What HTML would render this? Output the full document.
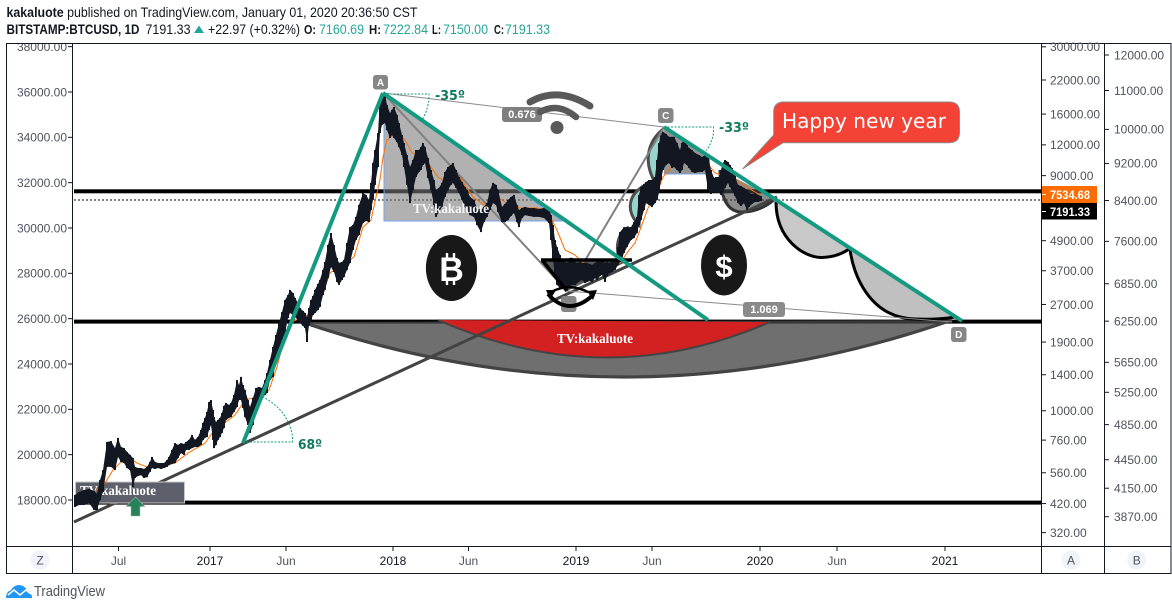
<!DOCTYPE html>
<html lang="en">
<head>
<meta charset="utf-8">
<title>BTCUSD chart</title>
<style>
html,body{margin:0;padding:0;background:#fff;width:1172px;height:610px;overflow:hidden}
svg{display:block;font-family:"Liberation Sans",sans-serif}
.tick-label{font-size:12px;fill:#50535e}
.hdr{font-size:14px;fill:#131722}
.lbl{font-size:13px;fill:#131722;font-weight:bold}
</style>
</head>
<body>
<svg id="chart" xmlns="http://www.w3.org/2000/svg" width="1172" height="610" viewBox="0 0 1172 610">
<defs>
<clipPath id="leftClip"><rect x="7" y="44" width="65" height="502"/></clipPath>
<clipPath id="paneClip"><rect x="72" y="44" width="969" height="502"/></clipPath>
</defs>

<text class="hdr" x="6.5" y="17" textLength="411" lengthAdjust="spacingAndGlyphs"><tspan font-weight="bold">kakaluote</tspan> published on TradingView.com, January 01, 2020 20:36:50 CST</text>
<g>
<text class="hdr" x="6.5" y="34" font-weight="bold" textLength="133" lengthAdjust="spacingAndGlyphs">BITSTAMP:BTCUSD, 1D</text>
<text class="hdr" x="145.5" y="34" textLength="45" lengthAdjust="spacingAndGlyphs">7191.33</text>
<polygon points="194,33 199,25.5 204,33" fill="#26a69a"/>
<text class="hdr" x="208" y="34" textLength="92" lengthAdjust="spacingAndGlyphs">+22.97 (+0.32%)</text>
<text class="lbl" x="304" y="34" textLength="12" lengthAdjust="spacingAndGlyphs">O:</text>
<text class="hdr" x="319" y="34" textLength="45" lengthAdjust="spacingAndGlyphs" style="fill:#26a69a">7160.69</text>
<text class="lbl" x="369" y="34" textLength="12" lengthAdjust="spacingAndGlyphs">H:</text>
<text class="hdr" x="383" y="34" textLength="45" lengthAdjust="spacingAndGlyphs" style="fill:#26a69a">7222.84</text>
<text class="lbl" x="432" y="34" textLength="9" lengthAdjust="spacingAndGlyphs">L:</text>
<text class="hdr" x="443" y="34" textLength="45" lengthAdjust="spacingAndGlyphs" style="fill:#26a69a">7150.00</text>
<text class="lbl" x="494" y="34" textLength="10" lengthAdjust="spacingAndGlyphs">C:</text>
<text class="hdr" x="505" y="34" textLength="45" lengthAdjust="spacingAndGlyphs" style="fill:#26a69a">7191.33</text>
</g>

<g id="underlay">
<rect x="74" y="189.3" width="967" height="4" fill="#000"/>
<rect x="74" y="319.6" width="967" height="4" fill="#000"/>
<rect x="74" y="500.6" width="967" height="4" fill="#000"/>
<line x1="74" x2="1041" y1="200" y2="200" stroke="#000" stroke-width="1" stroke-dasharray="2 2"/>

<path d="M302 322 Q627 433 952 320 Z" fill="rgba(70,70,70,.78)"/>
<path d="M438 320 Q605 394 770 322 Z" fill="#d32020"/>
<path d="M438 320 Q605 394 770 322" fill="none" stroke="#444" stroke-width="2"/>
<path d="M302 322 Q627 433 952 320" fill="none" stroke="#434343" stroke-width="3.2"/>

<polygon points="384,95 384,221 562,221" fill="rgba(120,120,120,.58)" stroke="#7aa3e6" stroke-width="1"/>
<polygon points="664,128 710,158 710,174 664,174" fill="rgba(90,90,90,.65)"/>
<line x1="664" y1="174" x2="710" y2="174" stroke="#7aa3e6" stroke-width="1"/>

<path d="M662 130 C648 142 642 162 657 186 Z" fill="#97d5cc" stroke="#4d4d4d" stroke-width="3"/>
<path d="M642 187 C628 196 626 212 639 225 Z" fill="#97d5cc" stroke="#4d4d4d" stroke-width="3"/>
<path d="M627 228 C617 234 614 250 621 260 Z" fill="#97d5cc" stroke="#4d4d4d" stroke-width="2.5"/>

<path d="M720 170 Q720 212 742 212 Q760 212 775 199 Z" fill="rgba(70,70,70,.62)"/>
<path d="M720 170 Q720 212 742 212 Q760 212 775 199" fill="none" stroke="#333" stroke-width="3"/>

<path d="M776 202 C776 240 805 258 822 257.5 Q838 257 849 249 Z" fill="#c8c8c8"/>
<path d="M776 202 C776 240 805 258 822 257.5 Q838 257 849 249" fill="none" stroke="#000" stroke-width="3"/>
<path d="M850 249 C853 275 870 318 915 319 Q938 320 955 317 Z" fill="#c0c0c0"/>
<path d="M850 249 C853 275 870 318 915 319 Q938 320 955 317" fill="none" stroke="#000" stroke-width="3"/>

<line x1="74" y1="522" x2="777" y2="197" stroke="#434343" stroke-width="3"/>
<line x1="383" y1="93" x2="567" y2="291" stroke="#808080" stroke-width="2"/>
<line x1="567" y1="291" x2="664" y2="127" stroke="#808080" stroke-width="2"/>
<line x1="383" y1="93" x2="664" y2="127" stroke="#8a8a8a" stroke-width="1"/>
<line x1="567" y1="291" x2="952" y2="322" stroke="#8a8a8a" stroke-width="1"/>

<rect x="75.5" y="482" width="109" height="21" fill="#5d5f6b" stroke="#c8c8c8" stroke-width="1"/>
<text x="80" y="495" font-family="Liberation Serif" font-weight="bold" font-size="14" fill="#fff" textLength="76" lengthAdjust="spacingAndGlyphs">TV:kakaluote</text>

<polygon points="542,260 630,260 567,291" fill="#5a5a5a"/>
</g>

<g id="price" clip-path="url(#paneClip)"></g>

<g id="overlay">
<path d="M542 260 L567 291 M541 260 L632 260" fill="none" stroke="#000" stroke-width="3.5"/>
<line x1="243" y1="443" x2="383" y2="93" stroke="#149a80" stroke-width="4"/>
<line x1="383" y1="93" x2="708" y2="320" stroke="#149a80" stroke-width="4"/>
<line x1="664" y1="127" x2="962" y2="321" stroke="#149a80" stroke-width="4"/>

<path d="M383 94 H429 V100 Q427 112 422 120" fill="none" stroke="#149a80" stroke-width="1" stroke-dasharray="2 1.5"/>
<text x="435" y="100" font-family="DejaVu Sans" font-weight="bold" font-size="13" fill="#0f7a62" textLength="30" lengthAdjust="spacingAndGlyphs">-35º</text>
<path d="M664 127 H713.5 V133 Q712 143 706 151" fill="none" stroke="#149a80" stroke-width="1" stroke-dasharray="2 1.5"/>
<text x="719" y="132" font-family="DejaVu Sans" font-weight="bold" font-size="13" fill="#0f7a62" textLength="30" lengthAdjust="spacingAndGlyphs">-33º</text>
<path d="M243 442 H292.5 V436 Q288 410 263 397" fill="none" stroke="#149a80" stroke-width="1" stroke-dasharray="2 1.5"/>
<text x="298" y="449" font-family="DejaVu Sans" font-weight="bold" font-size="13" fill="#0f7a62" textLength="24" lengthAdjust="spacingAndGlyphs">68º</text>

<rect x="373" y="75" width="15" height="14.5" rx="3" fill="#868686"/>
<text x="380.5" y="86" font-size="10" font-weight="bold" fill="#fff" text-anchor="middle">A</text>
<rect x="561" y="296" width="15.5" height="16" rx="3" fill="#868686"/>
<rect x="658" y="108" width="15.5" height="15" rx="3" fill="#868686"/>
<text x="665.7" y="119" font-size="10" font-weight="bold" fill="#fff" text-anchor="middle">C</text>
<rect x="951" y="327" width="15.5" height="15" rx="3" fill="#868686"/>
<text x="958.7" y="338" font-size="10" font-weight="bold" fill="#fff" text-anchor="middle">D</text>

<rect x="502" y="107" width="40" height="15" rx="3" fill="#7f7f7f"/>
<text x="522" y="118" font-size="11" font-weight="bold" fill="#fff" text-anchor="middle">0.676</text>
<rect x="743" y="302" width="42" height="15" rx="3" fill="#8a8a8a"/>
<text x="764" y="313" font-size="11" font-weight="bold" fill="#fff" text-anchor="middle">1.069</text>

<g>
<path d="M530 102 Q558 86 590 106" fill="none" stroke="#595959" stroke-width="7" stroke-linecap="round"/>
<path d="M540 112 Q558 102 576 117" fill="none" stroke="#595959" stroke-width="6.5" stroke-linecap="round"/>
<circle cx="557" cy="127.5" r="6.5" fill="#595959"/>
</g>

<g>
<ellipse cx="451.5" cy="268" rx="25.6" ry="33" fill="#181818"/>
<text x="451.5" y="281" font-family="Liberation Sans" font-weight="bold" font-size="34" fill="#fff" text-anchor="middle">B</text>
<path d="M447 253 V258 M454 253 V258 M447 280 V285 M454 280 V285" stroke="#fff" stroke-width="2.4"/>
</g>
<g>
<ellipse cx="724" cy="265" rx="23" ry="30.5" fill="#181818"/>
<text x="724" y="277" font-family="Liberation Sans" font-weight="bold" font-size="31" fill="#fff" text-anchor="middle">$</text>
</g>

<g>
<path d="M548 294 Q568 317 592 296" fill="none" stroke="#000" stroke-width="4"/>
<path d="M553 291 Q570 283 588 292" fill="none" stroke="#000" stroke-width="2.5"/>
<polygon points="546,290 556,290 550,300" fill="#000"/>
<polygon points="587,291 593,300 597,290" fill="#000"/>
</g>

<g>
<polygon points="135.5,497 145,506.5 140,506.5 140,516 131,516 131,506.5 126,506.5" fill="#26805a" stroke="#9fb8ab" stroke-width=".6"/>
</g>

<g>
<path d="M784 102 H949 Q959.5 102 959.5 112 V132.5 Q959.5 142.7 949 142.7 H783 L742.6 169 L773.7 135 V112 Q773.7 102 784 102 Z" fill="#f44336" stroke="#8a8a8a" stroke-width="1"/>
<text x="782" y="128" font-family="DejaVu Sans" font-size="20" fill="#fff" textLength="164" lengthAdjust="spacingAndGlyphs">Happy new year</text>
</g>

<text x="413" y="213" font-family="Liberation Serif" font-weight="bold" font-size="14" fill="#f4f4f4" textLength="76" lengthAdjust="spacingAndGlyphs">TV:kakaluote</text>
<text x="557" y="343" font-family="Liberation Serif" font-weight="bold" font-size="14" fill="#fff" textLength="76" lengthAdjust="spacingAndGlyphs">TV:kakaluote</text>
</g>

<g id="frame" fill="none" stroke="#131722" stroke-width="1">
<rect x="6.5" y="43.5" width="1164.5" height="530"/>
<line x1="72.5" y1="43.5" x2="72.5" y2="573.5"/>
<line x1="1041.5" y1="43.5" x2="1041.5" y2="573.5"/>
<line x1="1104.5" y1="43.5" x2="1104.5" y2="573.5"/>
<line x1="6.5" y1="546.5" x2="1171" y2="546.5"/>
</g>

<g id="axes"></g>

<g>
<rect x="1042" y="186" width="55" height="17" fill="#ff6d00"/>
<line x1="1042" x2="1046" y1="194.5" y2="194.5" stroke="#fff"/>
<text x="1050" y="199" font-size="12" font-weight="bold" fill="#fff" textLength="40" lengthAdjust="spacingAndGlyphs">7534.68</text>
<rect x="1042" y="203" width="55" height="16.5" fill="#000"/>
<line x1="1042" x2="1046" y1="211.5" y2="211.5" stroke="#fff"/>
<text x="1050" y="216" font-size="12" font-weight="bold" fill="#fff" textLength="40" lengthAdjust="spacingAndGlyphs">7191.33</text>
</g>

<g>
<circle cx="40" cy="560" r="9.5" fill="#f0f3fa"/>
<text x="40" y="564.5" font-size="12" fill="#50535e" text-anchor="middle">Z</text>
<circle cx="1071" cy="560" r="9.5" fill="#f0f3fa"/>
<text x="1071" y="564.5" font-size="12" fill="#50535e" text-anchor="middle">A</text>
<circle cx="1136.7" cy="560" r="9.5" fill="#f0f3fa"/>
<text x="1136.7" y="564.5" font-size="12" fill="#50535e" text-anchor="middle">B</text>
</g>

<g>
<path d="M6 598 Q6 592 11 590 Q14 585 19 585 Q24 585 27 590 Q32 592 32 598 Z" fill="#2196f3"/>
<path d="M8 595 L14 590 L20 595 L26 590 L31 594" fill="none" stroke="#fff" stroke-width="1.5"/>
<text x="34" y="596" font-size="14.5" fill="#50535e" textLength="71" lengthAdjust="spacingAndGlyphs">TradingView</text>
</g>
</svg>

<script>
const barDays=[-270,-262,-252,-242,-232,-226,-220,-214,-206,-198,-190,-184,-178,-172,-166,-160,-154,-150,-144,-138,-132,-126,-120,-116,-110,-104,-98,-92,-86,-82,-76,-70,-64,-58,-52,-48,-42,-36,-30,-24,-18,-14,-10,-6,-2,2,6,8,12,16,20,24,28,32,38,42,48,54,58,62,66,70,76,80,86,92,98,104,110,114,120,126,132,138,144,150,156,160,166,170,176,180,186,190,194,198,202,206,210,216,220,226,230,236,242,248,254,258,264,268,274,280,286,292,298,306,312,318,322,326,330,336,340,344,350,354,360,364,368,374,378,384,388,394,400,406,412,418,422,426,430,436,442,448,452,458,464,470,476,482,486,492,498,504,510,514,520,528,534,542,548,554,560,566,572,576,584,590,596,602,608,614,618,624,630,638,648,658,668,678,682,686,690,694,700,704,710,714,720,724,730,734,740,744,750,754,760,764,770,774,780,784,790,794,800,804,810,816,820,828,834,842,848,854,858,862,868,872,878,884,890,894,898,902,906,912,918,924,928,934,940,944,948,954,958,964,970,978,984,990,996,1002,1008,1012,1018,1022,1026,1030,1036,1040,1044,1050,1056,1062,1068,1074,1078,1084,1090,1096,1102];
const barHigh=[18220,18350,18440,18490,18400,18260,18880,19320,20560,20600,20290,20740,20340,20290,20120,19990,19850,19460,19410,19410,19370,19460,19680,19900,19680,19630,19630,19630,19760,19900,20210,20510,20430,20510,20470,20560,20650,20870,20650,20780,21090,21400,21620,21880,22320,22410,21970,21660,21440,21530,21620,21840,22150,22280,22190,22280,22630,23290,23070,23430,23070,22850,22410,22100,22500,22940,22990,22940,23290,23600,24180,24750,25280,25810,26290,26820,27040,27270,27130,26910,26690,26470,26340,26250,26070,26470,26820,27000,27270,27530,27710,28150,28500,29250,29780,29250,28680,28460,28500,28590,29340,30040,30130,30490,31020,31540,31460,31240,31990,32870,33440,34190,35650,35820,35870,35430,35070,35210,35340,34990,34630,34100,33750,33220,32690,33000,33440,33440,33570,33750,33570,33090,32560,32120,31680,31770,31990,32470,32690,32780,32870,32560,32250,32030,31810,31680,31370,31240,30880,30790,30930,31100,31680,31990,31900,31680,30930,31060,31240,31370,31460,31020,30790,30880,30930,30880,30880,30840,30880,30880,30570,30130,29470,29160,28810,28590,28500,28460,28680,28680,28500,28460,28500,28460,28460,28460,28410,28370,28460,28500,28590,28590,28460,28500,28460,28590,28590,29160,29820,30040,30040,30040,30260,30490,31460,31810,31940,32030,32120,32120,32250,33000,33750,34060,34240,34150,34020,34020,34020,33750,33440,33750,33970,33660,33530,33440,33310,33220,33130,33220,33130,32560,32210,32250,32250,32560,32870,33000,32910,32780,32650,32300,31900,31850,31770,31680,31550,31500,31550,31460,31410];
const barLow=[17690,17780,17780,17870,17560,17560,18000,18350,19460,19460,19320,19900,19680,19630,19410,19320,18570,18970,19060,19100,18970,19010,19240,19410,19370,19410,19370,19410,19460,19540,19590,19630,19850,20070,19990,20210,20210,20290,20340,20340,20430,20650,20740,20780,21090,21310,20650,20290,20430,20650,20780,20960,21180,21530,21620,21660,21880,22100,22410,22410,22060,21660,21310,20960,21310,21840,22190,22500,22630,22720,23290,23430,24090,24490,25060,25370,26030,26250,26160,26070,25940,25810,25680,25590,24970,25720,25940,26160,26250,26380,26520,27040,27270,27790,28280,28060,27620,27490,27710,27840,28150,28460,29030,29470,29690,30220,30310,30260,30790,31240,31900,32690,34190,34550,34630,34320,33970,34100,33970,33790,33570,33220,32690,31900,31100,31680,32250,32470,32560,32780,32870,32210,31680,31020,30490,30710,30930,31370,31680,31900,31990,31770,31550,31240,30930,30790,30570,30490,30130,29820,30260,30490,30790,31100,31020,30710,30260,30260,30350,30530,30660,30260,30040,30440,30570,30530,30490,30490,30440,30220,29470,28590,27930,27490,27350,27400,27270,27350,27400,27490,27490,27570,27660,27710,27570,27620,27660,27620,27790,27710,27880,27930,27620,27880,28020,28060,28150,28370,28500,28900,29160,29470,29560,29780,30130,30350,30790,31100,31020,30930,31100,31240,31550,32120,32560,32780,32870,32650,32690,32560,32430,32560,32870,32780,32650,32470,32430,32470,32470,32560,31680,31500,31590,31550,31550,31460,31590,31770,31990,31810,31680,31410,31100,30970,31100,30790,30930,31060,31150,31150,31190];
const maDays=[-262,-210,-194,-180,-160,-146,-126,-104,-70,-44,-10,6,24,50,70,92,118,134,148,164,184,206,226,240,272,288,306,322,332,340,346,354,374,390,404,420,436,456,474,500,526,554,574,594,620,654,676,694,710,730,740,760,780,820,834,850,860,876,894,906,926,954,994,1010,1046,1066,1100];
const maValues=[17780,18750,19320,19630,19850,19630,19460,19460,19630,20070,20510,21000,21310,21750,22410,22540,22850,23870,25060,25850,26070,26250,27130,28020,28460,28720,30040,30350,31370,32120,33130,33880,34240,33880,33310,33220,32870,32250,31990,32210,31370,30930,31370,31100,30880,30880,30710,29910,29030,28810,28590,28240,28370,28460,28900,29340,29910,30880,31550,32250,32780,33130,32870,32430,32210,31900,31460];
const leftTicks=[18000,20000,22000,24000,26000,28000,30000,32000,34000,36000,38000];
const axisATicks=[320,420,560,760,1000,1400,1900,2700,3700,4900,9000,12000,16000,22000,30000];
const axisBTicks=[3870,4150,4450,4850,5250,5650,6250,6850,7600,8400,9200,10000,11000,12000];
const timeTickDays=[-183,0,152,366,517,732,884,1100,1254,1470];
const timeTickLabels=["Jul","2017","Jun","2018","Jun","2019","Jun","2020","Jun","2021"];
const yearTickLabels=["2017","2018","2019","2020","2021"];

const NS="http://www.w3.org/2000/svg";
function xTime(day){return 210+day*0.5;}
function yLeft(v){return 500-(v-18000)*408/18000;}
function yAxisA(v){return 80+Math.log(22000/v)*107;}
function yAxisB(v){return 55+Math.log(12000/v)*408;}
function fmt(v){return v.toFixed(2);}

const priceGroup=document.getElementById('price');
const ma=document.createElementNS(NS,'polyline');
ma.setAttribute('points',maDays.map(function(d,i){return xTime(d)+','+yLeft(maValues[i]);}).join(' '));
ma.setAttribute('fill','none');
ma.setAttribute('stroke','#ff6d00');
ma.setAttribute('stroke-width','1');


priceGroup.appendChild(ma);

const upperEdge=barDays.map(function(d,i){return xTime(d)+','+yLeft(barHigh[i]);});
const lowerEdge=barDays.map(function(d,i){return xTime(d)+','+yLeft(barLow[i]);}).reverse();
const band=document.createElementNS(NS,'polygon');
band.setAttribute('points',upperEdge.concat(lowerEdge).join(' '));
band.setAttribute('fill','#131722');


priceGroup.appendChild(band);

for(let i=0;i<barDays.length;i++){
  const bar=document.createElementNS(NS,'line');
  bar.setAttribute('x1',xTime(barDays[i]));
  bar.setAttribute('x2',xTime(barDays[i]));
  bar.setAttribute('y1',yLeft(barHigh[i]));
  bar.setAttribute('y2',yLeft(barLow[i]));
  bar.setAttribute('stroke','#131722');
  bar.setAttribute('stroke-width','2');
  
  
  priceGroup.appendChild(bar);
}

const axes=document.getElementById('axes');
const leftGroup=document.createElementNS(NS,'g');
leftGroup.setAttribute('clip-path','url(#leftClip)');


axes.appendChild(leftGroup);
leftTicks.forEach(function(v){
  const y=yLeft(v);
  const t=document.createElementNS(NS,'line');
  t.setAttribute('x1',68);t.setAttribute('x2',72);t.setAttribute('y1',y);t.setAttribute('y2',y);
  t.setAttribute('stroke','#131722');
  
  
  leftGroup.appendChild(t);
  const l=document.createElementNS(NS,'text');
  l.setAttribute('x',67);l.setAttribute('y',y+4.3);
  l.setAttribute('text-anchor','end');
  l.setAttribute('class','tick-label');
  
  
  l.textContent=fmt(v);
  leftGroup.appendChild(l);
});
const groupA=document.createElementNS(NS,'g');


axes.appendChild(groupA);
axisATicks.forEach(function(v){
  const y=yAxisA(v);
  const t=document.createElementNS(NS,'line');
  t.setAttribute('x1',1041);t.setAttribute('x2',1046);t.setAttribute('y1',y);t.setAttribute('y2',y);
  t.setAttribute('stroke','#131722');
  
  
  groupA.appendChild(t);
  const l=document.createElementNS(NS,'text');
  l.setAttribute('x',1050);l.setAttribute('y',y+4.3);
  l.setAttribute('class','tick-label');
  
  
  l.textContent=fmt(v);
  groupA.appendChild(l);
});
const groupB=document.createElementNS(NS,'g');


axes.appendChild(groupB);
axisBTicks.forEach(function(v){
  const y=yAxisB(v);
  const t=document.createElementNS(NS,'line');
  t.setAttribute('x1',1104.5);t.setAttribute('x2',1109);t.setAttribute('y1',y);t.setAttribute('y2',y);
  t.setAttribute('stroke','#131722');
  
  
  groupB.appendChild(t);
  const l=document.createElementNS(NS,'text');
  l.setAttribute('x',1114);l.setAttribute('y',y+4.3);
  l.setAttribute('class','tick-label');
  
  
  l.textContent=fmt(v);
  groupB.appendChild(l);
});
const groupT=document.createElementNS(NS,'g');


axes.appendChild(groupT);
timeTickDays.forEach(function(d,i){
  const x=xTime(d);
  const t=document.createElementNS(NS,'line');
  t.setAttribute('x1',x);t.setAttribute('x2',x);t.setAttribute('y1',546.5);t.setAttribute('y2',551);
  t.setAttribute('stroke','#131722');
  
  
  groupT.appendChild(t);
  const l=document.createElementNS(NS,'text');
  l.setAttribute('x',x);l.setAttribute('y',565);
  l.setAttribute('text-anchor','middle');
  l.setAttribute('class','tick-label');
  if(yearTickLabels.indexOf(timeTickLabels[i])>=0){l.setAttribute('style','fill:#131722');}
  
  
  l.textContent=timeTickLabels[i];
  groupT.appendChild(l);
});
</script>
</body>
</html>
